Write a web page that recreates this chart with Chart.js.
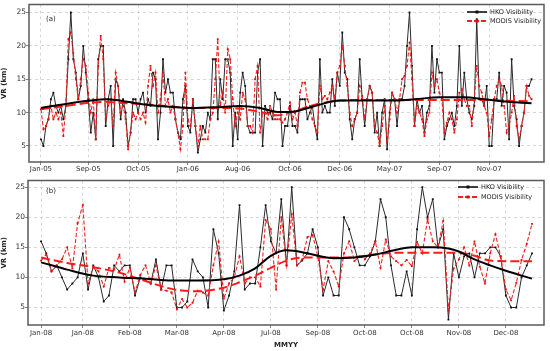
<!DOCTYPE html>
<html>
<head>
<meta charset="utf-8">
<script src="https://cdn.jsdelivr.net/npm/chart.js@4.4.1/dist/chart.umd.min.js"></script>
<style>
  html, body { margin: 0; padding: 0; background: #fff; }
  #wrap { position: relative; width: 550px; height: 351px; }
  .panel { position: absolute; left: 0; width: 550px; }
  #pa { top: 0; height: 176px; }
  #pb { top: 176px; height: 175px; }
</style>
</head>
<body>
<div id="wrap">
  <div class="panel" id="pa"><canvas id="chartA"></canvas></div>
  <div class="panel" id="pb"><canvas id="chartB"></canvas></div>
</div>
<script>
Chart.defaults.font.family = '"DejaVu Sans", Verdana, sans-serif';
Chart.defaults.color = '#222';

// ── (a) 2005–2007 ────────────────────────────────────────────────────────
const tickAtA = [0, 19, 39, 59, 79, 100, 120, 140, 160, 180];
const tickLabelsA = ['Jan-05', 'Sep-05', 'Oct-05', 'Jan-06', 'Aug-06', 'Oct-06', 'Dec-06', 'May-07', 'Sep-07', 'Nov-07'];

const hkoA = [
  6, 5, 8, 9, 12, 13, 11, 10, 11, 9, 11, 18, 25, 18, 16, 12, 14, 20, 16, 12,
  7, 10, 6, 18, 20, 20, 8, 12, 14, 5,
  15, 14, 9, 12, 10, 5, 7, 12, 12,
  10, 12, 13, 10, 12, 11, 16, 15, 6,
  10, 18, 13, 15, 13, 13, 9, 7, 6,
  12, 14, 8, 7, 12, 8, 4, 6, 8,
  7, 10, 9, 18, 18, 9, 15, 12, 18, 18,
  16, 5, 10, 6, 13, 16, 14, 8, 7, 7,
  7, 16, 18, 5, 11, 10, 10, 9, 13, 12,
  12, 5, 8, 8, 11, 8, 8, 7, 12, 12, 12, 9, 10, 11, 8, 6, 18, 10, 11, 10,
  10, 15, 11, 16, 14, 22, 16, 15, 9, 6, 9, 10, 18, 12, 8, 12, 14, 13, 7, 10,
  5, 10, 12, 4.5, 10, 13, 12, 8, 12, 12, 14, 20, 25, 17, 8, 12, 10, 11, 7, 10,
  11, 20, 13, 18, 16, 16, 6, 8, 9, 10, 8, 11, 20, 11, 16, 12, 10, 9, 11, 24,
  12, 12, 11, 14, 5, 5, 12, 12, 16, 11, 14, 13, 6, 18, 11, 9, 5, 8, 10, 14,
  14, 15
];
const modisA = [
  10.5, 7.5, 8, 9, 11, 9, 10, 9, 10, 6.5,
  11, 21, 22, 19, 15, 12, 15, 18, 17, 13,
  10, 12, 6, 17, 21.5, 18, 9, 11, 12, 8,
  16, 14, 10, 11, 9, 4.5, 7, 10, 9, 10,
  9, 10, 8.5, 14, 17, 14, 16, 10, 12, 16,
  11, 12, 10, 11, 9, 7, 4.5, 8, 16, 9,
  8, 12, 8, 5, 8, 6, 6, 6, 9, 10,
  15, 21, 11, 13, 10, 19.5, 18, 12, 8, 10,
  9, 13, 12, 8, 8, 7, 15, 17, 7, 10,
  10, 9, 11, 10, 9, 9,
  9, 8.5, 9, 10, 11.5, 9, 10, 8, 13, 14.5, 14.5, 12, 11, 9, 8, 7, 14, 12, 12.5, 12,
  13, 14, 12, 16, 17, 20, 17, 14, 10, 8, 9, 10, 14, 12.5, 9, 12, 14, 13, 8, 7,
  5, 8, 11, 5.5, 9, 13, 12, 10, 12, 15, 15.5, 17, 20.5, 15, 8, 11, 10, 9, 6.5, 9,
  10, 16, 14, 15, 13, 12, 7, 8.5, 10, 9, 7, 9, 13, 13.5, 12, 11, 11, 8, 12, 17,
  14, 13, 11, 10, 6.5, 9, 12, 14, 15, 14, 11, 7, 8, 10, 12.5, 8, 6, 8, 10, 14,
  12.5, 12
];
const knotsA = [0, 10, 20, 26, 30, 40, 50, 60, 70, 80, 88, 95, 100, 110, 120, 130, 140, 150, 160, 170, 178, 185, 197];
const hkoTrendA = [10.7, 11.3, 11.8, 12.0, 11.9, 11.3, 10.9, 10.7, 10.8, 11.0, 10.7, 10.1, 10.1, 11.0, 11.8, 11.8, 11.8, 12.0, 12.3, 12.3, 12.0, 11.7, 11.4];
const modisTrendA = [10.5, 11.0, 11.5, 11.6, 11.5, 11.3, 11.0, 10.7, 10.7, 10.6, 10.1, 9.6, 10.0, 11.2, 11.8, 11.9, 11.9, 11.9, 11.9, 11.9, 11.9, 11.8, 11.7];

// ── (b) 2008 ─────────────────────────────────────────────────────────────
const tickAtB = [0, 8, 17, 26, 35, 44, 53, 62, 71, 80, 89];
const tickLabelsB = ['Jan-08', 'Jan-08', 'Feb-08', 'Mar-08', 'Apr-08', 'Jul-08', 'Sep-08', 'Oct-08', 'Oct-08', 'Nov-08', 'Dec-08'];

const hkoB = [
  16, 14, 11, 12, 10, 8, 9, 10, 14, 8,
  12, 10, 6, 7, 12, 11, 12, 12, 7, 10,
  9.5, 9, 13, 8, 12, 12, 5, 5, 6, 13,
  11, 10, 5, 18, 14, 4.5, 7, 11, 22, 8,
  9, 9, 15, 22, 16, 14, 23, 12, 25, 12,
  12.8, 14, 18, 15, 7, 10, 7, 7, 20, 18,
  15, 12, 12, 13.5, 16, 23, 20, 12, 7, 7,
  11, 7, 18, 25, 20, 23, 15, 18, 3, 14,
  10, 13.5, 14, 10, 14, 14, 15, 15, 13.5, 7,
  5, 5, 10, 12, 14
];
const modisB = [
  12.8, 13.8, 11, 12, 13, 15, 11.5, 19, 22, 9,
  11.7, 11, 8.5, 11.6, 11.3, 13.8, 9.3, 11.6, 7.5, 10.4,
  12, 9, 12, 8, 7.8, 7.5, 4.7, 6.4, 5, 5.8,
  7.8, 7.5, 7, 12, 16, 6.5, 9, 10, 13.5, 9,
  10, 10, 8.5, 19.5, 18, 8, 20, 12, 20.5, 12,
  13, 16.7, 17, 13.5, 8, 12.7, 11, 8.5, 14, 16,
  12.7, 13.5, 13, 14, 16, 11.6, 16.3, 13.5, 12.7, 12,
  12.9, 11.9, 15.9, 14, 19.7, 16, 15, 19.4, 4.5, 11.5,
  13, 15, 12, 16, 11.8, 9, 14, 17.2, 13.5, 8,
  6.2, 9.1, 12.9, 15.6, 18.9
];
const knotsB = [0, 5, 10, 15, 20, 25, 30, 35, 38, 41, 44, 47, 50, 53, 56, 60, 64, 68, 71, 75, 78, 80, 83, 86, 89, 92, 94];
const hkoTrendB = [12.5, 11.3, 10.3, 10.0, 9.8, 9.5, 9.5, 9.7, 10.3, 11.5, 13.6, 14.5, 14.2, 13.6, 13.2, 13.3, 13.8, 14.6, 15.0, 15.0, 14.8, 14.3, 13.0, 12.0, 11.1, 10.3, 9.8];
const modisTrendB = [13.3, 12.4, 11.7, 10.8, 9.4, 8.1, 7.7, 8.3, 9.2, 10.3, 11.6, 12.8, 13.3, 13.3, 13.3, 13.4, 13.8, 14.1, 14.1, 14.1, 14.1, 14.1, 13.6, 12.8, 12.7, 12.7, 12.7];

const yTicks = [5, 10, 15, 20, 25];

// Rámeček kolem plochy grafu + legenda a štítek panelu.
const framePlugin = {
  id: 'frame',
  afterDatasetsDraw(chart) {
    const { ctx, chartArea: a } = chart;
    ctx.save();
    ctx.strokeStyle = '#5a5a5a';
    ctx.lineWidth = 1.5;
    ctx.strokeRect(a.left, a.top, a.right - a.left, a.bottom - a.top);
    ctx.restore();
  },
};

const legendPlugin = {
  id: 'vrLegend',
  afterDraw(chart, args, o) {
    const ctx = chart.ctx;
    const ds = chart.data.datasets;
    ctx.save();
    ctx.textBaseline = 'middle';
    ctx.font = '6.5px "DejaVu Sans"';
    [0, 1].forEach((k) => {
      const d = ds[k];
      const y = o.y + k * o.gap;
      ctx.strokeStyle = d.borderColor;
      ctx.lineWidth = 1.8;
      ctx.setLineDash(k ? [5, 2] : []);
      ctx.beginPath();
      ctx.moveTo(o.x, y);
      ctx.lineTo(o.x + o.len, y);
      ctx.stroke();
      ctx.setLineDash([]);
      ctx.fillStyle = d.pointBackgroundColor;
      ctx.fillRect(o.x + o.len / 2 - 1.5, y - 1.5, 3, 3);
      ctx.fillStyle = '#222';
      ctx.fillText(d.label, o.x + o.len + 3, y);
    });
    ctx.font = '7px "DejaVu Sans"';
    ctx.fillText(o.tag, o.tagX, o.tagY);
    ctx.restore();
  },
};

const pts = (arr) => arr.map((v, i) => ({ x: i, y: v }));
const knotPts = (xs, ys) => xs.map((x, i) => ({ x, y: ys[i] }));

function panel(id, c) {
  const gridOpts = { color: '#cdcdcd', lineWidth: 0.8, tickLength: 3, tickColor: '#666' };
  return new Chart(document.getElementById(id), {
    type: 'line',
    data: {
      datasets: [
        { label: 'HKO Visibility', data: pts(c.hko), borderColor: '#2a2a2a', borderWidth: 1,
          pointStyle: 'rect', pointRadius: 1.3, pointBorderWidth: 0, pointBackgroundColor: '#111', order: 3 },
        { label: 'MODIS Visibility', data: pts(c.modis), borderColor: '#f22020', borderWidth: 1.1, borderDash: [4, 2],
          pointStyle: 'rect', pointRadius: 1.3, pointBorderWidth: 0, pointBackgroundColor: '#e01010', order: 2 },
        { label: 'HKO trend', data: knotPts(c.knots, c.hkoTrend), borderColor: '#000', borderWidth: 2,
          pointRadius: 0, cubicInterpolationMode: 'monotone', order: 0 },
        { label: 'MODIS trend', data: knotPts(c.knots, c.modisTrend), borderColor: '#ff1a1a', borderWidth: 2,
          borderDash: [9, 4], pointRadius: 0, cubicInterpolationMode: 'monotone', order: 1 },
      ],
    },
    options: {
      responsive: true, maintainAspectRatio: false, animation: false,
      layout: { padding: { top: c.padTop, right: 6, left: 0, bottom: 0 } },
      plugins: { legend: { display: false }, tooltip: { enabled: false }, vrLegend: c.legend },
      scales: {
        x: {
          type: 'linear', min: c.xMin, max: c.xMax,
          afterBuildTicks: (s) => { s.ticks = c.tickAt.map((v) => ({ value: v })); },
          afterFit: (s) => { s.height = c.xH; },
          ticks: { callback: (v) => c.tickLabels[c.tickAt.indexOf(v)] ?? '', autoSkip: false, maxRotation: 0,
            font: { size: 7 }, color: '#333', padding: c.xPad },
          grid: gridOpts,
          border: { display: false, dash: [3, 3] },
          title: c.xTitle
            ? { display: true, text: c.xTitle, font: { size: 7, weight: 'bold' }, color: '#222', padding: { top: 0, bottom: 2 } }
            : { display: false },
        },
        y: {
          min: c.yMin, max: c.yMax,
          afterBuildTicks: (s) => { s.ticks = yTicks.map((v) => ({ value: v })); },
          afterFit: (s) => { s.width = c.yW; },
          ticks: { font: { size: 7.5 }, color: '#333', padding: 0 },
          grid: gridOpts,
          border: { display: false, dash: [3, 3] },
          title: { display: true, text: 'VR (km)', font: { size: 7, weight: 'bold' }, color: '#222', padding: 0 },
        },
      },
    },
    plugins: [framePlugin, legendPlugin],
  });
}

panel('chartA', {
  hko: hkoA, modis: modisA, knots: knotsA, hkoTrend: hkoTrendA, modisTrend: modisTrendA,
  tickAt: tickAtA, tickLabels: tickLabelsA,
  xMin: -4.8, xMax: 202, yMin: 2.6, yMax: 26.2,
  padTop: 4, xH: 14, yW: 29, xPad: 0, xTitle: null,
  legend: { x: 467, y: 12, gap: 9, len: 20, tag: '(a)', tagX: 46, tagY: 19 },
});

panel('chartB', {
  hko: hkoB, modis: modisB, knots: knotsB, hkoTrend: hkoTrendB, modisTrend: modisTrendB,
  tickAt: tickAtB, tickLabels: tickLabelsB,
  xMin: -2.5, xMax: 96.3, yMin: 2.1, yMax: 26.1,
  padTop: 1, xH: 26, yW: 28, xPad: 1, xTitle: 'MMYY',
  legend: { x: 458, y: 11, gap: 10, len: 20, tag: '(b)', tagX: 46, tagY: 15 },
});
</script>
</body>
</html>
